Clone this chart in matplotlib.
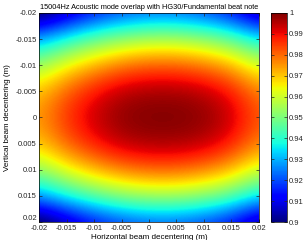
import matplotlib.pyplot as plt
import numpy as np

plt.rcParams['font.family'] = ['Liberation Sans', 'DejaVu Sans']

# grid positions (m)
x_pos = [-0.02, -0.015, -0.01, -0.005, 0.0, 0.005, 0.01, 0.015, 0.02]
y_pos = [-0.02, -0.015, -0.01, -0.005, 0.0, 0.005, 0.01, 0.015, 0.02]

# overlap values, row per y (top = -0.02)
overlap = [
    [0.893, 0.903, 0.912, 0.918, 0.921, 0.921, 0.918, 0.912, 0.900],
    [0.928, 0.938, 0.946, 0.952, 0.955, 0.955, 0.952, 0.946, 0.935],
    [0.953, 0.964, 0.972, 0.978, 0.981, 0.981, 0.978, 0.972, 0.960],
    [0.970, 0.981, 0.989, 0.995, 0.997, 0.997, 0.995, 0.989, 0.977],
    [0.975, 0.986, 0.994, 0.999, 1.000, 1.000, 0.999, 0.994, 0.982],
    [0.970, 0.981, 0.989, 0.995, 0.997, 0.997, 0.995, 0.989, 0.977],
    [0.953, 0.964, 0.972, 0.978, 0.981, 0.981, 0.978, 0.972, 0.960],
    [0.928, 0.938, 0.946, 0.952, 0.955, 0.955, 0.952, 0.946, 0.935],
    [0.893, 0.903, 0.912, 0.918, 0.921, 0.921, 0.918, 0.912, 0.900],
]

ticks = [-0.02, -0.015, -0.01, -0.005, 0, 0.005, 0.01, 0.015, 0.02]
tick_labels = ['-0.02', '-0.015', '-0.01', '-0.005', '0', '0.005', '0.01', '0.015', '0.02']
cb_ticks = [0.9, 0.91, 0.92, 0.93, 0.94, 0.95, 0.96, 0.97, 0.98, 0.99, 1.0]
cb_labels = ['0.9', '0.91', '0.92', '0.93', '0.94', '0.95', '0.96', '0.97', '0.98', '0.99', '1']

fig = plt.figure(figsize=(3.05, 2.4), dpi=100)
ax = fig.add_axes([0.128, 0.075, 0.721, 0.871])
cax = fig.add_axes([0.889, 0.075, 0.052, 0.871])

half = (x_pos[1] - x_pos[0]) / 2
im = ax.imshow(np.array(overlap), cmap='jet', vmin=0.9, vmax=1.0,
               interpolation='bicubic', aspect='auto',
               extent=[x_pos[0] - half, x_pos[-1] + half, y_pos[-1] + half, y_pos[0] - half])
ax.set_xlim(-0.02, 0.02)
ax.set_ylim(0.02, -0.02)

ax.set_xticks(ticks)
ax.set_xticklabels(tick_labels)
ax.set_yticks(ticks)
ax.set_yticklabels(tick_labels)
ax.tick_params(direction='in', length=2, width=0.5, labelsize=5.5, pad=1.5,
               top=True, right=True, colors='#262626')
ax.tick_params(axis='x', pad=2.5)
# bottom y label sits a bit above the corner, as in MATLAB
ax.get_yticklabels()[-1].set_va('bottom')
for s in ax.spines.values():
    s.set_linewidth(0.5)

ax.set_title('15004Hz Acoustic mode overlap with HG30/Fundamental beat note', fontsize=5.3, pad=3)
ax.set_xlabel('Horizontal beam decentering (m)', fontsize=5.8, labelpad=1)
ax.set_ylabel('Vertical beam decentering (m)', fontsize=5.8, labelpad=3)

cb = fig.colorbar(im, cax=cax)
cb.set_ticks(cb_ticks)
cb.set_ticklabels(cb_labels)
cax.tick_params(direction='in', length=2, width=0.5, labelsize=5.5, pad=1.5,
                left=True, right=True, colors='#262626')
cb.outline.set_linewidth(0.5)

plt.savefig('out.png', dpi=100)
